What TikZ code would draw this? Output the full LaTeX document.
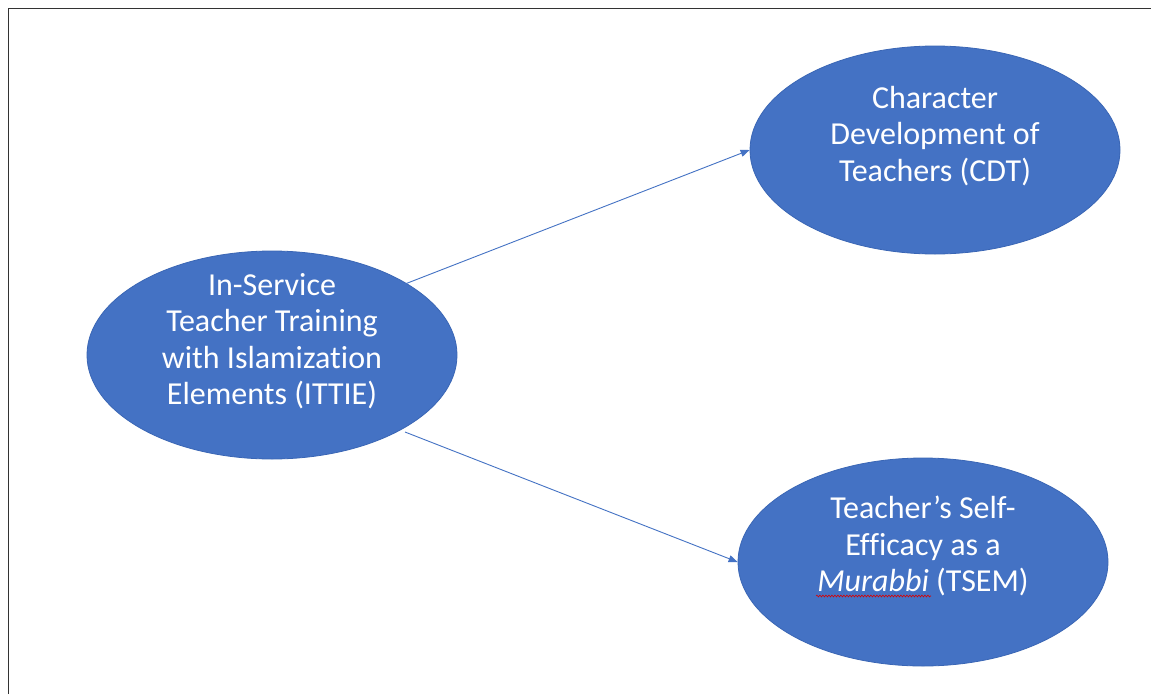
\documentclass[tikz,border=0pt]{standalone}
\usepackage{fontspec}
\setmainfont[RawFeature={-liga;-clig;-dlig;-calt}]{Carlito}
\usetikzlibrary{shapes.geometric,arrows.meta,decorations.pathmorphing}
\definecolor{ofblue}{HTML}{4472C4}
\definecolor{ofedge}{HTML}{3A66B5}
\begin{document}
\begin{tikzpicture}[x=1pt,y=-1pt,
  oval/.style={ellipse,fill=ofblue,draw=ofedge,line width=0.8pt,minimum width=370pt,minimum height=208pt,inner sep=0pt},
  ovaltext/.style={text=white,align=center,font=\fontsize{32}{36.5}\selectfont,inner sep=0pt},
  conn/.style={draw=ofblue,line width=0.9pt,-{Triangle[length=9pt,width=7pt]}}]
\useasboundingbox (0,0) rectangle (1151,694);
\fill[white] (0,0) rectangle (1151,694);
\draw[line width=1.3pt,draw=black!80] (8.5,694) -- (8.5,8.5) -- (1151,8.5);
\node[oval] (cdt) at (935,150) {};
\node[oval] (ittie) at (272,355) {};
\node[oval] (tsem) at (923,562) {};
\node[ovaltext] (cdtt) at (935,136) {Character\\Development of\\Teachers (CDT)};
\node[ovaltext] (ittiet) at (272,341) {In-Service\\Teacher Training\\with Islamization\\Elements (ITTIE)};
\node[ovaltext] (tsemt) at (923,546) {Teacher’s Self-\\Efficacy as a\\\textit{Murabbi} (TSEM)};
\coordinate (ws) at (816,596);
\coordinate (we) at (931,596);
\draw[red!85!black,line width=0.6pt,decorate,decoration={snake,amplitude=0.9pt,segment length=3pt}] (ws) -- (we);
\draw[conn] (405,284) -- (cdt.west);
\draw[conn] (405,432) -- (tsem.west);
\end{tikzpicture}
\end{document}
